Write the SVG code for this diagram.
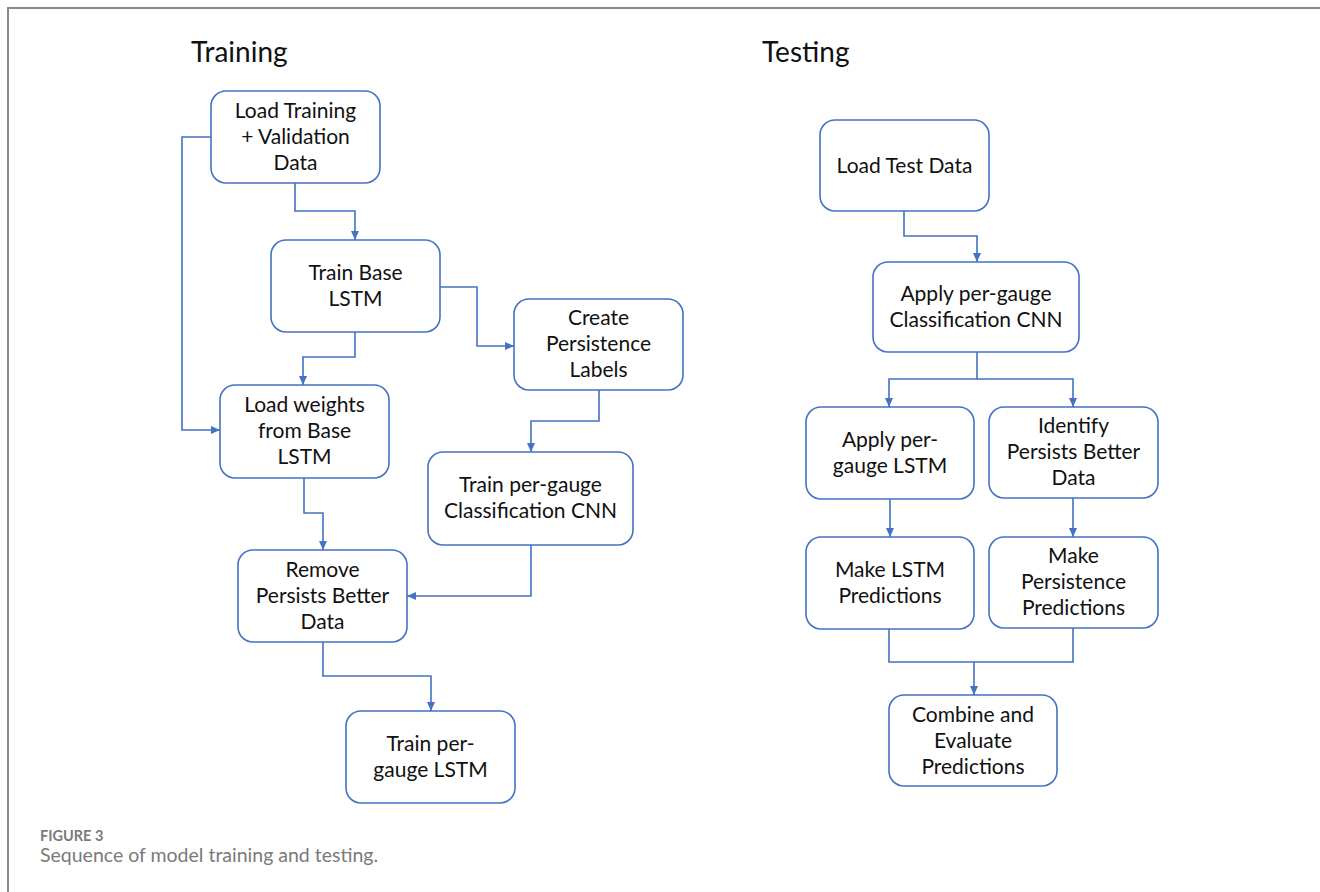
<svg xmlns="http://www.w3.org/2000/svg" width="1320" height="892" viewBox="0 0 1320 892">
<style>
.box{fill:#fff;stroke:#4472C4;stroke-width:1.6}
.t{font-family:Lato,"Liberation Sans",sans-serif;font-size:21px;fill:#111;text-anchor:middle}
.h{font-family:Lato,"Liberation Sans",sans-serif;font-size:28px;fill:#111}
.c{fill:none;stroke:#4472C4;stroke-width:1.6}
.cap1{font-family:Lato,"Liberation Sans",sans-serif;font-size:14.5px;font-weight:bold;fill:#7a7a7a}
.cap2{font-family:Lato,"Liberation Sans",sans-serif;font-size:19.5px;fill:#7a7a7a}
</style>
<defs>
<marker id="ah" markerWidth="9" markerHeight="8" refX="9" refY="4" orient="auto" markerUnits="userSpaceOnUse">
<path d="M0,0 L9,4 L0,8 Z" fill="#4472C4"/>
</marker>
</defs>
<rect width="1320" height="892" fill="#fff"/>
<path d="M8,892 V8 H1320" fill="none" stroke="#8a8a8a" stroke-width="2"/>
<text class="h" x="191" y="62">Training</text>
<text class="h" x="762" y="62">Testing</text>
<g id="connectors">
<path class="c" d="M295,183 V211 H355 V240" marker-end="url(#ah)"/>
<path class="c" d="M211,137 H182 V430 H220" marker-end="url(#ah)"/>
<path class="c" d="M355,332 V357 H303 V385" marker-end="url(#ah)"/>
<path class="c" d="M440,287 H477 V346 H514" marker-end="url(#ah)"/>
<path class="c" d="M599,390 V421 H531 V452" marker-end="url(#ah)"/>
<path class="c" d="M304,478 V513 H323 V550" marker-end="url(#ah)"/>
<path class="c" d="M531,545 V596 H407" marker-end="url(#ah)"/>
<path class="c" d="M323,642 V676 H431 V711" marker-end="url(#ah)"/>
<path class="c" d="M904,211 V236 H977 V262" marker-end="url(#ah)"/>
<path class="c" d="M977,352 V379 H889 V407" marker-end="url(#ah)"/>
<path class="c" d="M977,379 H1073 V407" marker-end="url(#ah)"/>
<path class="c" d="M890,499 V537" marker-end="url(#ah)"/>
<path class="c" d="M1073,498 V537" marker-end="url(#ah)"/>
<path class="c" d="M889,629 V662 H1073 V628"/>
<path class="c" d="M974,662 V695" marker-end="url(#ah)"/>
</g>
<g id="n1"><rect class="box" x="211" y="91" width="169" height="92" rx="15"/>
<text class="t" x="295.5" y="118">Load Training</text><text class="t" x="295.5" y="144">+ Validation</text><text class="t" x="295.5" y="170">Data</text></g>
<g id="n2"><rect class="box" x="271" y="240" width="169" height="92" rx="15"/>
<text class="t" x="355.5" y="280">Train Base</text><text class="t" x="355.5" y="306">LSTM</text></g>
<g id="n3"><rect class="box" x="220" y="385" width="169" height="93" rx="15"/>
<text class="t" x="304.5" y="412">Load weights</text><text class="t" x="304.5" y="438">from Base</text><text class="t" x="304.5" y="464">LSTM</text></g>
<g id="n4"><rect class="box" x="514" y="299" width="169" height="91" rx="15"/>
<text class="t" x="598.5" y="325">Create</text><text class="t" x="598.5" y="351">Persistence</text><text class="t" x="598.5" y="377">Labels</text></g>
<g id="n5"><rect class="box" x="428" y="452" width="205" height="93" rx="15"/>
<text class="t" x="530.5" y="492">Train per-gauge</text><text class="t" x="530.5" y="518">Classification CNN</text></g>
<g id="n6"><rect class="box" x="238" y="550" width="169" height="92" rx="15"/>
<text class="t" x="322.5" y="577">Remove</text><text class="t" x="322.5" y="603">Persists Better</text><text class="t" x="322.5" y="629">Data</text></g>
<g id="n7"><rect class="box" x="346" y="711" width="169" height="92" rx="15"/>
<text class="t" x="430.5" y="751">Train per-</text><text class="t" x="430.5" y="777">gauge LSTM</text></g>
<g id="t1"><rect class="box" x="820" y="120" width="169" height="91" rx="15"/>
<text class="t" x="904.5" y="173">Load Test Data</text></g>
<g id="t2"><rect class="box" x="873" y="262" width="206" height="90" rx="15"/>
<text class="t" x="976" y="301">Apply per-gauge</text><text class="t" x="976" y="327">Classification CNN</text></g>
<g id="t3"><rect class="box" x="806" y="407" width="168" height="92" rx="15"/>
<text class="t" x="890" y="447">Apply per-</text><text class="t" x="890" y="473">gauge LSTM</text></g>
<g id="t4"><rect class="box" x="989" y="407" width="169" height="91" rx="15"/>
<text class="t" x="1073.5" y="433">Identify</text><text class="t" x="1073.5" y="459">Persists Better</text><text class="t" x="1073.5" y="485">Data</text></g>
<g id="t5"><rect class="box" x="806" y="537" width="168" height="92" rx="15"/>
<text class="t" x="890" y="577">Make LSTM</text><text class="t" x="890" y="603">Predictions</text></g>
<g id="t6"><rect class="box" x="989" y="537" width="169" height="91" rx="15"/>
<text class="t" x="1073.5" y="563">Make</text><text class="t" x="1073.5" y="589">Persistence</text><text class="t" x="1073.5" y="615">Predictions</text></g>
<g id="t7"><rect class="box" x="889" y="695" width="168" height="91" rx="15"/>
<text class="t" x="973" y="722">Combine and</text><text class="t" x="973" y="748">Evaluate</text><text class="t" x="973" y="774">Predictions</text></g>
<text class="cap1" x="40" y="841">FIGURE 3</text>
<text class="cap2" x="40" y="862">Sequence of model training and testing.</text>
</svg>
